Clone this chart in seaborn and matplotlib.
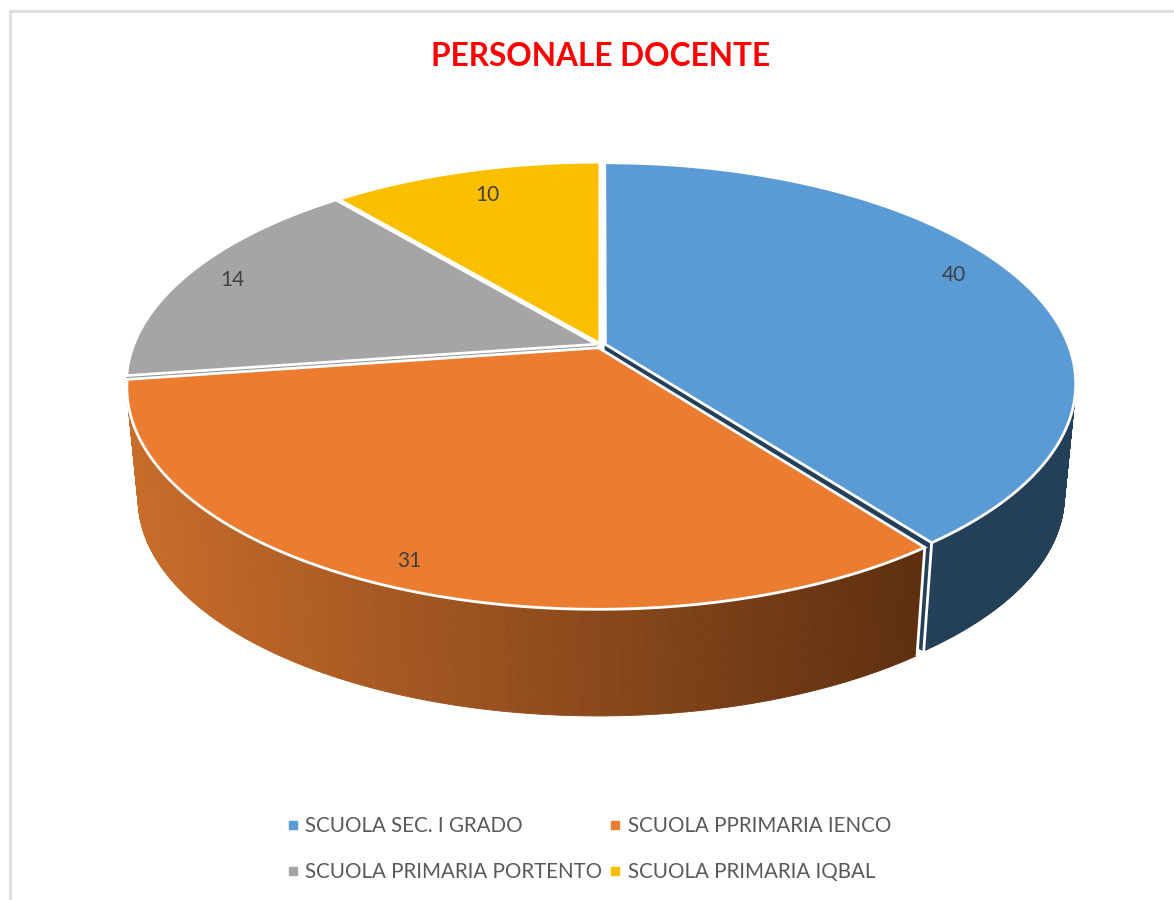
import numpy as np
import matplotlib
matplotlib.use("Agg")
import matplotlib.pyplot as plt
from matplotlib.lines import Line2D
import seaborn as sns

# data
categories = ["SCUOLA SEC. I GRADO", "SCUOLA PPRIMARIA IENCO",
              "SCUOLA PRIMARIA PORTENTO", "SCUOLA PRIMARIA IQBAL"]
values = [40, 31, 14, 10]
colors = ["#5B9BD5", "#EC7C30", "#A5A5A5", "#FCBF00"]
title = "PERSONALE DOCENTE"

sns.set_theme(style="white")
plt.rcParams["font.family"] = ["Lato", "DejaVu Sans"]

# view of the pie: unit disk -> screen, with a bit of perspective
cx, cy = 601, 345
a, b, k = 463, 214, 0.1775
depth, shrink = 113, 0.024
explode = [0.010, 0.014, 0.010, 0.008]
skew, skew2 = 4.3, 1.46
label_r = [0.88, 0.925, 0.90, 0.85]
label_shift = [-4.5, 0, 0, 0.7]


def view_angle(t):
    t2 = np.radians(t)
    return t - skew * (1 - np.cos(t2)) - skew2 * (1 - np.cos(2 * t2))


def project(t, r=1.0, level=0, off=(0, 0)):
    t = np.radians(t)
    X = r * np.sin(t) + off[0]
    Y = r * np.cos(t) + off[1]
    w = 1 + k * Y
    s = 1 - level * shrink
    return cx + s * a * X / w, cy + level * depth - s * b * Y / w


fig, ax = plt.subplots(figsize=(11.74, 9), dpi=100)
fig.subplots_adjust(0, 0, 1, 1)
ax.set_xlim(0, 1174)
ax.set_ylim(900, 0)
ax.axis("off")

# chart frame, only the top and left show
ax.plot([10, 10, 1174], [900, 11, 11], color="#DDDDDD", lw=2, zorder=0)

edges = np.cumsum([0] + values) / sum(values) * 360
starts = view_angle(edges[:-1])
ends = view_angle(edges[1:])
mids = (starts + ends) / 2
offs = [(e * np.sin(np.radians(m)), e * np.cos(np.radians(m))) for e, m in zip(explode, mids)]


def outer_wall(i, t0, t1, pal):
    ts = np.linspace(t0, t1, 240)
    xa, ya = project(ts, off=offs[i])
    xb, yb = project(ts, level=1, off=offs[i])
    for j in range(len(ts) - 1):
        frac = np.clip((xa[j] - 131) / (925 - 131), 0, 1)
        c = pal[int(frac * (len(pal) - 1))]
        ax.fill([xa[j], xa[j + 1], xb[j + 1], xb[j]], [ya[j], ya[j + 1], yb[j + 1], yb[j]],
                color=c, lw=0.6, zorder=2)


def top_face(i):
    ts = np.linspace(starts[i], ends[i], 200)
    xs, ys = project(ts, off=offs[i])
    x0, y0 = project(0, r=0, off=offs[i])
    ax.fill(np.r_[x0, xs], np.r_[y0, ys], facecolor=colors[i], edgecolor="white",
            lw=2.0, joinstyle="miter", zorder=4)


def cut_wall(i, t, color):
    x0, y0 = project(0, r=0, off=offs[i])
    x1, y1 = project(t, off=offs[i])
    x2, y2 = project(t, level=1, off=offs[i])
    x3, y3 = project(0, r=0, level=1, off=offs[i])
    ax.fill([x0, x1, x2, x3], [y0, y1, y2, y3], color=color, zorder=1)


# back slices
cut_wall(2, starts[2], "#8C8C8C")
top_face(3)
top_face(2)

# blue slice
cut_wall(0, ends[0], "#234058")
outer_wall(0, 100, ends[0], sns.blend_palette(["#234058", "#234058"], 4))
x1, y1 = project(ends[0], off=offs[0])
x2, y2 = project(ends[0], level=1, off=offs[0])
ax.plot([x1, x2], [y1, y2], color="white", lw=2.0, zorder=3)
top_face(0)

# orange slice goes on top of the blue cut
orange_pal = sns.blend_palette(["#C86C2A", "#5E2F10"], 200)
outer_wall(1, starts[1], min(ends[1], 260), orange_pal)
x1, y1 = project(starts[1], off=offs[1])
x2, y2 = project(starts[1], level=1, off=offs[1])
ax.plot([x1, x2], [y1, y2], color="white", lw=2.0, zorder=3)
top_face(1)

# value labels
for i, v in enumerate(values):
    x, y = project(mids[i] + label_shift[i], r=label_r[i])
    ax.text(x, y, str(v), ha="center", va="center", fontsize=15, color="#404040", zorder=6)

ax.text(601, 57, title, ha="center", va="center", fontsize=22.8, fontweight="bold", color="#FF0000")

# legend fills columns first, so order them to read across the rows
order = [0, 2, 1, 3]
handles = [Line2D([], [], ls="", marker="s", ms=6, color=colors[i]) for i in order]
ax.legend(handles, [categories[i] for i in order], ncols=2, loc="center",
          bbox_to_anchor=(0.5020, 0.0565), frameon=False, fontsize=14.8, labelcolor="#595959",
          handlelength=0.5, handletextpad=0.35, columnspacing=0.4, labelspacing=1.28)

fig.savefig("out.png", dpi=100)
